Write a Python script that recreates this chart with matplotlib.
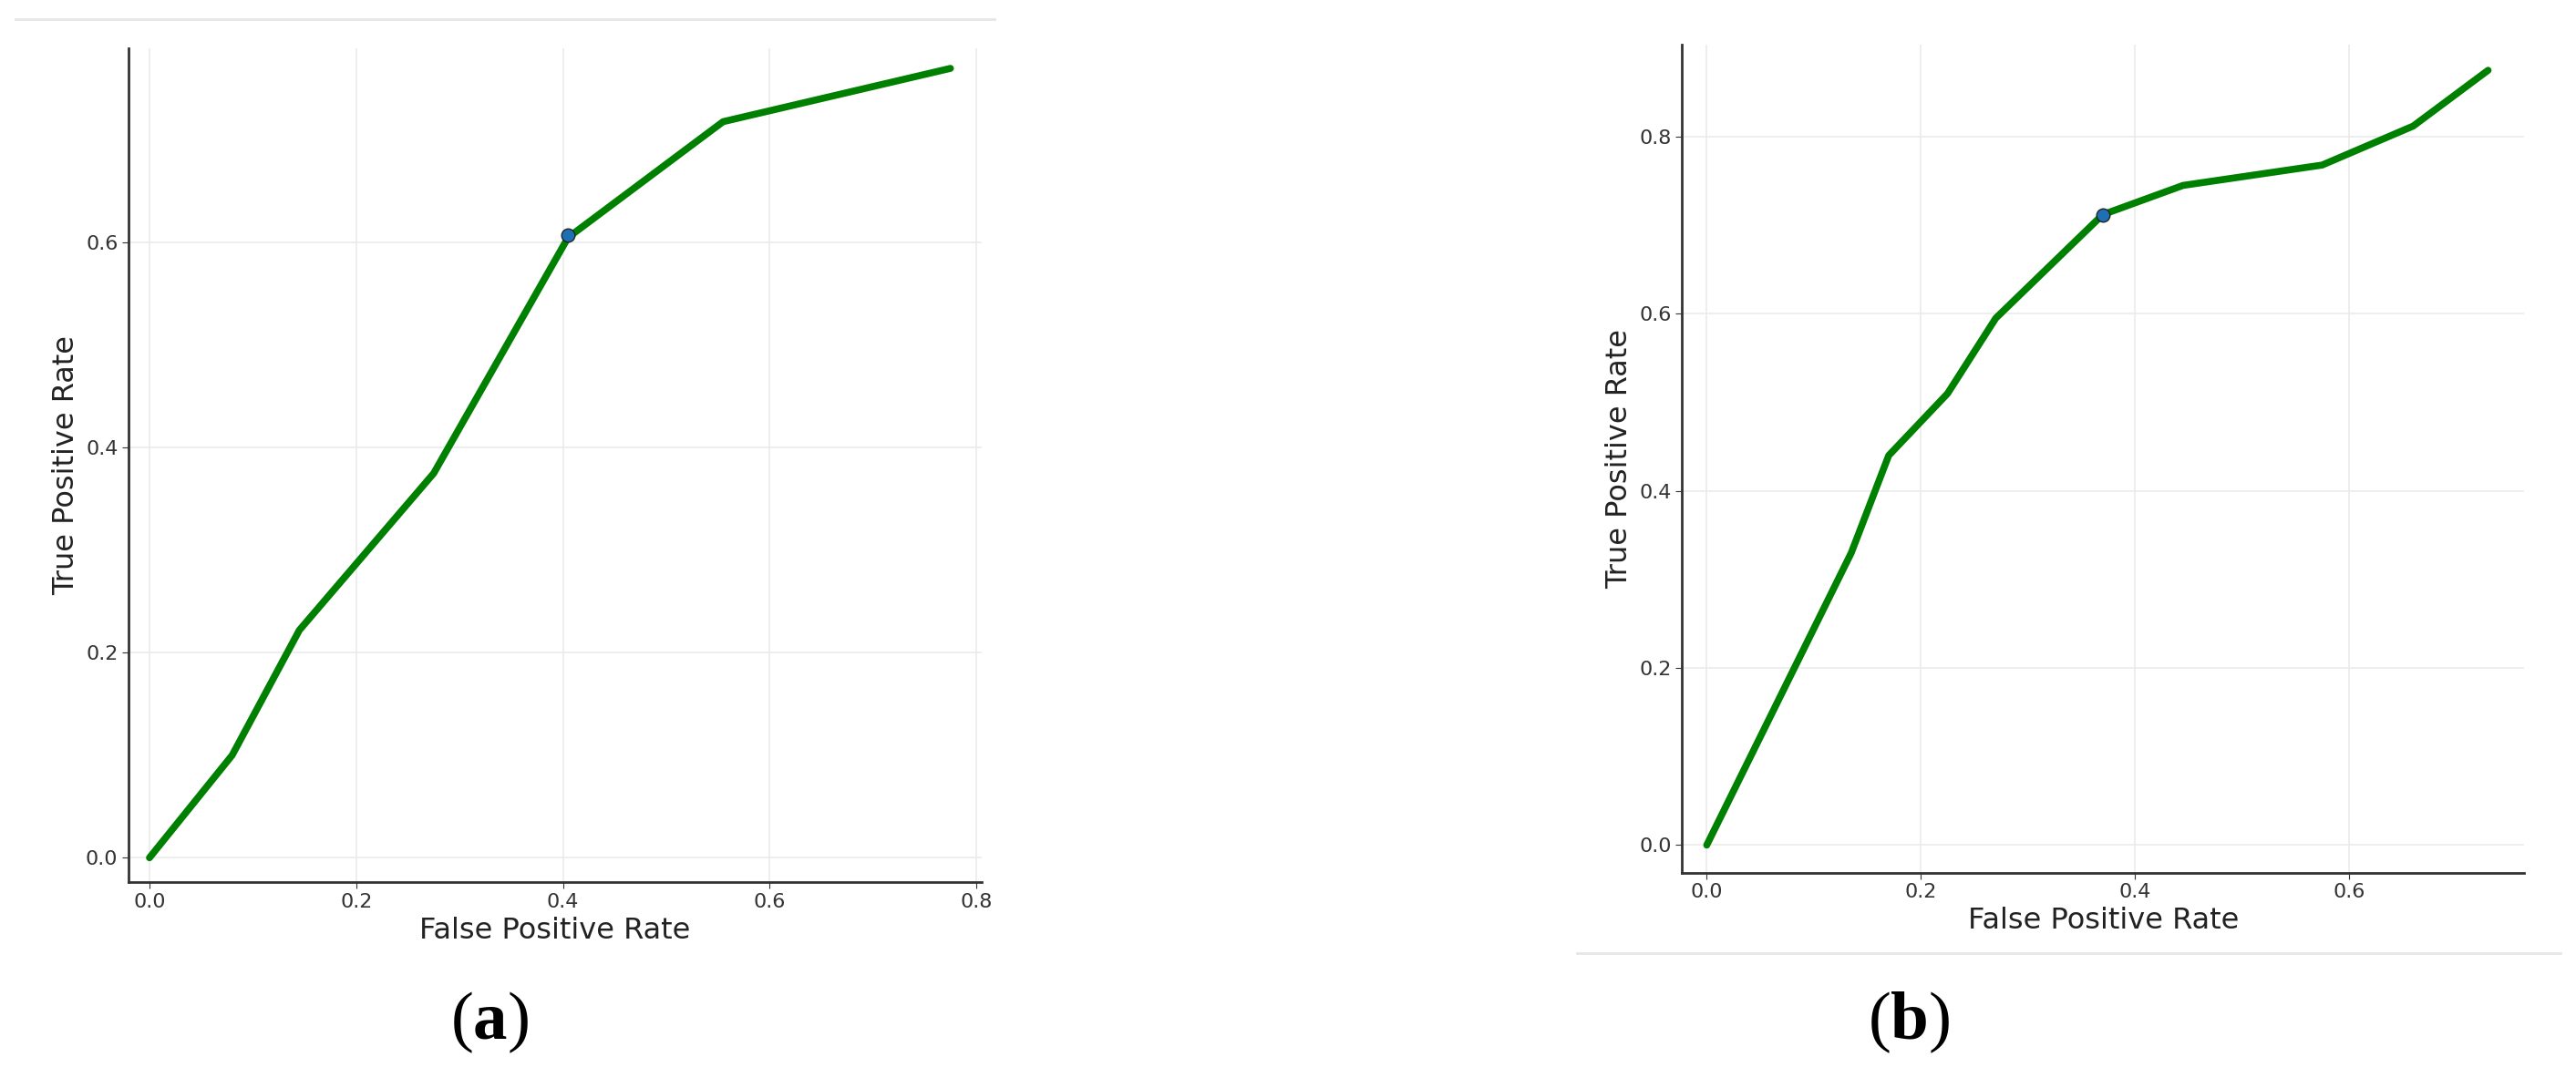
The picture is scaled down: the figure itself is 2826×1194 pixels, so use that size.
import matplotlib
matplotlib.use('Agg')
import matplotlib.pyplot as plt
from matplotlib.lines import Line2D

plt.rcParams['mathtext.fontset'] = 'custom'
plt.rcParams['mathtext.rm'] = 'Liberation Serif'
plt.rcParams['mathtext.bf'] = 'Liberation Serif:bold'

# panel (a)
fpr_a = [0.0, 0.08, 0.145, 0.275, 0.405, 0.555, 0.775]
tpr_a = [0.0, 0.10, 0.222, 0.375, 0.605, 0.718, 0.770]
pt_a = (0.405, 0.607)

# panel (b)
fpr_b = [0.0, 0.135, 0.17, 0.225, 0.27, 0.37, 0.445, 0.575, 0.66, 0.73]
tpr_b = [0.0, 0.33, 0.44, 0.51, 0.595, 0.712, 0.745, 0.768, 0.812, 0.875]
pt_b = (0.37, 0.712)

fig = plt.figure(figsize=(28.26, 11.94), dpi=100)
ax_a = fig.add_axes([0.050, 0.189, 0.331, 0.767])
ax_b = fig.add_axes([0.653, 0.198, 0.327, 0.761])


def style(ax, xt, yt, xlim, ylim):
    ax.set_xlim(*xlim)
    ax.set_ylim(*ylim)
    ax.set_xticks(xt)
    ax.set_yticks(yt)
    ax.set_xticklabels([f"{v:.1f}" for v in xt])
    ax.set_yticklabels([f"{v:.1f}" for v in yt])
    ax.grid(True, color='#ebebeb', linewidth=1.2)
    ax.set_axisbelow(True)
    for s in ['top', 'right']:
        ax.spines[s].set_visible(False)
    for s in ['left', 'bottom']:
        ax.spines[s].set_color('#333333')
        ax.spines[s].set_linewidth(2)
    ax.tick_params(labelsize=16, colors='#333333', length=5)
    ax.set_xlabel('False Positive Rate', fontsize=23, color='#222222')
    ax.set_ylabel('True Positive Rate', fontsize=23, color='#222222')


ax_a.plot(fpr_a, tpr_a, color='#008000', linewidth=5.5, solid_capstyle='round')
ax_a.scatter([pt_a[0]], [pt_a[1]], s=110, color='#1f6fb4', edgecolors='#222222', zorder=3)
style(ax_a, [0.0, 0.2, 0.4, 0.6, 0.8], [0.0, 0.2, 0.4, 0.6], (-0.02, 0.805), (-0.024, 0.79))

ax_b.plot(fpr_b, tpr_b, color='#008000', linewidth=5.5, solid_capstyle='round')
ax_b.scatter([pt_b[0]], [pt_b[1]], s=110, color='#1f6fb4', edgecolors='#222222', zorder=3)
style(ax_b, [0.0, 0.2, 0.4, 0.6], [0.0, 0.2, 0.4, 0.6, 0.8], (-0.023, 0.764), (-0.031, 0.904))

# thin separator lines from the source layout
fig.add_artist(Line2D([0.006, 0.386], [0.982, 0.982], color='#e6e6e6', linewidth=2))
fig.add_artist(Line2D([0.612, 0.994], [0.124, 0.124], color='#e6e6e6', linewidth=2))

fig.text(0.19, 0.03, r'($\mathbf{a}$)', fontsize=54, family='Liberation Serif', ha='center', va='bottom')
fig.text(0.741, 0.03, r'($\mathbf{b}$)', fontsize=54, family='Liberation Serif', ha='center', va='bottom')

fig.savefig('out.png', dpi=100)
